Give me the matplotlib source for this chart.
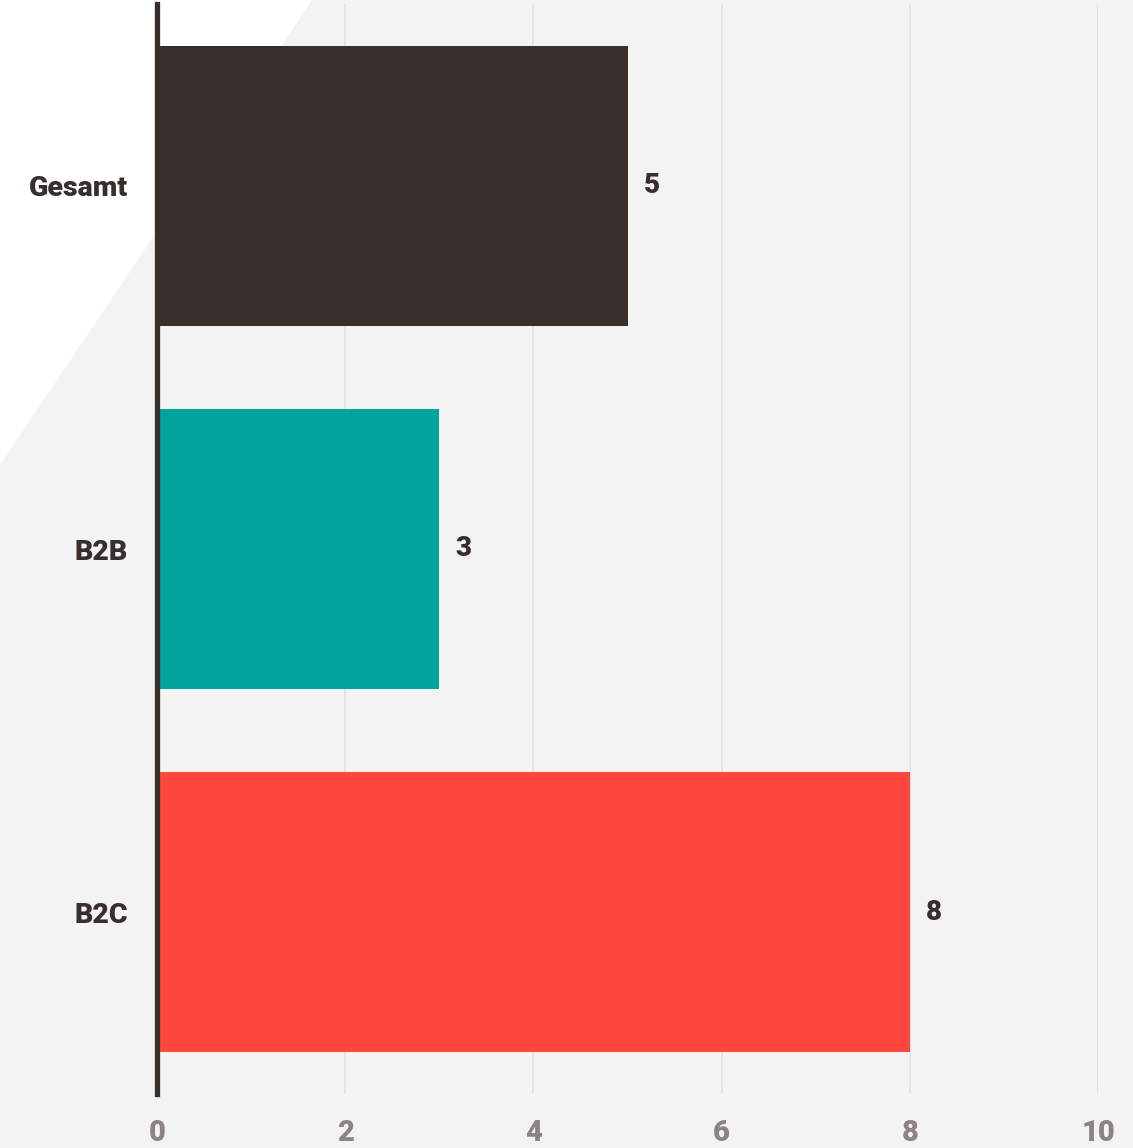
import matplotlib.pyplot as plt
from matplotlib.patches import Polygon

# Daten
kategorien = ['Gesamt', 'B2B', 'B2C']
werte = [5, 3, 8]
farben = ['#382e2c', '#00a39d', '#ff463c']
x_ticks = [0, 2, 4, 6, 8, 10]

BG = '#f3f3f3'
DUNKEL = '#382e2c'
GRAU = '#8a8482'

plt.rcParams['font.family'] = ['Roboto', 'DejaVu Sans']

fig = plt.figure(figsize=(11.33, 11.48), dpi=100, facecolor=BG)

# Hintergrund mit weissem Dreieck oben links
bg_ax = fig.add_axes([0, 0, 1, 1], zorder=-1)
bg_ax.set_xlim(0, 1)
bg_ax.set_ylim(0, 1)
bg_ax.axis('off')
bg_ax.add_patch(Polygon([(0, 1), (312 / 1133, 1), (0, (1148 - 465) / 1148)],
                        closed=True, facecolor='white', edgecolor='none'))

ax = fig.add_axes([157 / 1133, 54 / 1148, (1098 - 157) / 1133, (1094 - 4) / 1148])
ax.set_facecolor('none')

pos = list(range(len(kategorien)))
ax.barh(pos, werte, height=0.77, color=farben, zorder=2)

for p, w in zip(pos, werte):
    ax.text(w + 0.17, p, str(w), va='center', ha='left', fontsize=20,
            fontweight='black', color=DUNKEL, zorder=3)

ax.set_xlim(0, 10)
ax.set_ylim(len(kategorien) - 0.5, -0.5)
ax.set_xticks(x_ticks)
ax.set_xticklabels([str(t) for t in x_ticks], fontsize=21, fontweight='black', color=GRAU)
ax.set_yticks(pos)
ax.set_yticklabels(kategorien, fontsize=20.5, fontweight='black', color=DUNKEL)
ax.tick_params(axis='both', length=0)
ax.tick_params(axis='x', pad=18)
ax.tick_params(axis='y', pad=21)

ax.grid(axis='x', color='#e2e2e2', linewidth=1.2, zorder=1)
ax.set_axisbelow(True)

for s in ['top', 'right', 'bottom']:
    ax.spines[s].set_visible(False)
ax.spines['left'].set_color(DUNKEL)
ax.spines['left'].set_linewidth(3.8)
ax.spines['left'].set_zorder(4)

fig.savefig('out.png', dpi=100, facecolor=BG)
